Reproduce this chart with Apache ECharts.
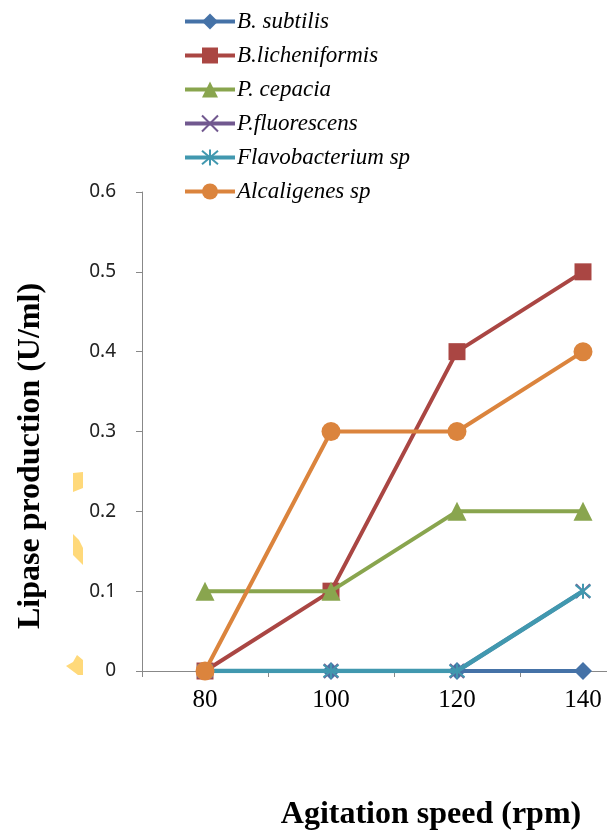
<!DOCTYPE html>
<html><head><meta charset="utf-8">
<script src="https://cdn.jsdelivr.net/npm/echarts@6/dist/echarts.min.js"></script>
<style>html,body{margin:0;padding:0;background:#fff;overflow:hidden}#c{width:650px;height:833px}</style>
</head><body><div id="c"></div>
<script>
const categories = ['80', '100', '120', '140'];
const yTicks = [0, 0.1, 0.2, 0.3, 0.4, 0.5, 0.6];
const seriesNames = ['B. subtilis', 'B.licheniformis', 'P. cepacia', 'P.fluorescens', 'Flavobacterium sp', 'Alcaligenes sp'];
const bSubtilis = [0, 0, 0, 0];
const bLicheniformis = [0, 0.1, 0.4, 0.5];
const pCepacia = [0.1, 0.1, 0.2, 0.2];
const pFluorescens = [0, 0, 0, 0.1];
const flavobacterium = [0, 0, 0, 0.1];
const alcaligenes = [0, 0.3, 0.3, 0.4];
const xTitle = 'Agitation speed (rpm)';
const yTitle = 'Lipase production (U/ml)';

const colors = ['#4572A7', '#AA4643', '#89A54E', '#71588F', '#4198AF', '#DB843D'];
const symbols = ['diamond', 'rect', 'triangle', 'path://M0,0L10,10M10,0L0,10', 'path://M0,0L10,10M10,0L0,10M5,-1L5,11', 'circle'];
const sizes = [18, 17, 19, 14, 15, 19];
const dataArr = [bSubtilis, bLicheniformis, pCepacia, pFluorescens, flavobacterium, alcaligenes];

const series = seriesNames.map((n, i) => {
  const isStroke = i === 3 || i === 4;
  return {
    name: n, type: 'line', data: dataArr[i],
    symbol: symbols[i], symbolSize: sizes[i], showAllSymbol: true,
    lineStyle: { color: colors[i], width: i === 4 ? 4.5 : 4 },
    itemStyle: isStroke ? { color: 'rgba(0,0,0,0)', borderColor: colors[i], borderWidth: 2 } : { color: colors[i], borderWidth: 0 },
    emphasis: { disabled: true },
    z: 2 + i
  };
});

const chart = echarts.init(document.getElementById('c'), null, { renderer: 'canvas' });
chart.setOption({
  animation: false,
  backgroundColor: '#fff',
  grid: { left: 142, top: 192, right: 4, bottom: 162, containLabel: false },
  legend: {
    orient: 'vertical', left: 183, top: 10, padding: 0,
    itemWidth: 50, itemHeight: 20, itemGap: 11,
    data: seriesNames,
    lineStyle: { width: 4 },
    textStyle: { fontFamily: 'Liberation Serif', fontStyle: 'italic', fontSize: 23, color: '#000', padding: [0, 0, 0, -3] },
    selectedMode: false
  },
  xAxis: {
    type: 'category', data: categories, boundaryGap: true,
    axisLine: { lineStyle: { color: '#888', width: 1 } },
    axisTick: { show: true, length: 6, lineStyle: { color: '#888' } },
    axisLabel: { fontFamily: 'Liberation Serif', fontSize: 25, color: '#000', margin: 17 }
  },
  yAxis: {
    type: 'value', min: 0, max: 0.6, interval: 0.1,
    splitLine: { show: false },
    axisLine: { show: true, lineStyle: { color: '#888', width: 1 } },
    axisTick: { show: true, length: 6, lineStyle: { color: '#888' } },
    axisLabel: { fontFamily: 'Noto Sans', fontSize: 19, color: '#222', margin: 26,
      formatter: v => { const t = yTicks.find(x => Math.abs(x - v) < 1e-9); return t === undefined ? '' : String(t); } }
  },
  graphic: [
    { type: 'text', x: 431, y: 815, silent: true,
      style: { text: xTitle, fontFamily: 'Liberation Serif', fontWeight: 'bold', fontSize: 32, fill: '#000', align: 'center', verticalAlign: 'middle' } },
    { type: 'text', x: 31, y: 456, rotation: Math.PI / 2, silent: true,
      style: { text: yTitle, fontFamily: 'Liberation Serif', fontWeight: 'bold', fontSize: 32, fill: '#000', align: 'center', verticalAlign: 'middle' } },
    { type: 'polygon', shape: { points: [[73,473],[83,472],[83,488],[73,492]] }, style: { fill: '#FFD97A' }, silent: true },
    { type: 'polygon', shape: { points: [[73,534],[79,540],[83,548],[83,565],[73,555]] }, style: { fill: '#FFD97A' }, silent: true },
    { type: 'polygon', shape: { points: [[77,655],[83,660],[83,675],[78,675],[66,666],[73,662]] }, style: { fill: '#FFD97A' }, silent: true }
  ],
  series: series
});
</script></body></html>
